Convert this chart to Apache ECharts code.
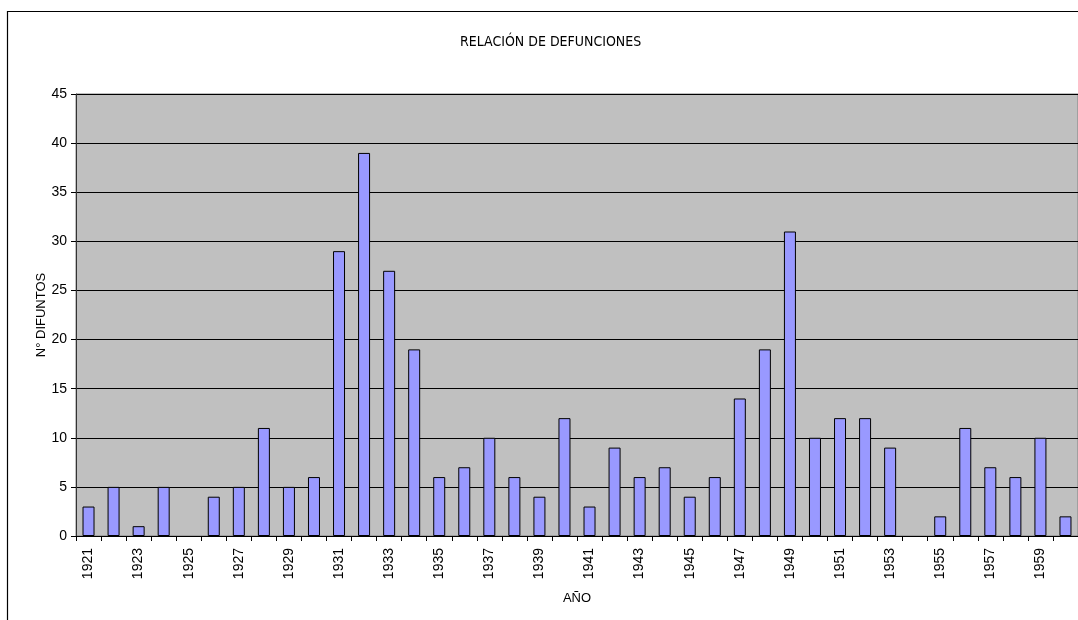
<!DOCTYPE html>
<html>
<head>
<meta charset="utf-8">
<script src="https://cdn.jsdelivr.net/npm/echarts@6/dist/echarts.min.js"></script>
<style>html,body{margin:0;padding:0;background:#fff;}#c{width:1078px;height:620px;}</style>
</head>
<body>
<div id="c"></div>
<script>
const years = ['1921','1922','1923','1924','1925','1926','1927','1928','1929','1930',
  '1931','1932','1933','1934','1935','1936','1937','1938','1939','1940',
  '1941','1942','1943','1944','1945','1946','1947','1948','1949','1950',
  '1951','1952','1953','1954','1955','1956','1957','1958','1959','1960'];
const deaths = [3,5,1,5,0,4,5,11,5,6,
  29,39,27,19,6,7,10,6,4,12,
  3,9,6,7,4,6,14,19,31,10,
  12,12,9,0,2,11,7,6,10,2];
const titleText = 'RELACIÓN DE DEFUNCIONES';
const xName = 'AÑO';
const yName = 'N° DIFUNTOS';

const font = "'Liberation Sans', Arial, sans-serif";
const narrow = "'Liberation Sans Narrow', 'DejaVu Sans Condensed', 'Liberation Sans', sans-serif";
const chart = echarts.init(document.getElementById('c'));
chart.setOption({
  animation: false,
  backgroundColor: '#ffffff',
  title: {
    text: titleText, left: 455, top: 30,
    textStyle: {fontFamily: narrow, fontSize: 14, fontWeight: 'normal', color: '#000'}
  },
  graphic: [{
    type: 'rect', silent: true, z: 100,
    shape: {x: 7.5, y: 11.5, width: 1200, height: 800},
    style: {fill: 'none', stroke: '#000', lineWidth: 1.2}
  }],
  grid: {left: 76, right: -2, top: 94, bottom: 84, show: true, backgroundColor: '#C0C0C0', borderColor: '#808080', borderWidth: 1},
  xAxis: {
    type: 'category', data: years,
    name: xName, nameLocation: 'middle', nameGap: 56, nameMoveOverlap: false,
    nameTextStyle: {fontFamily: font, fontSize: 13, color: '#000'},
    axisLine: {lineStyle: {color: '#000', width: 1}},
    axisTick: {show: true, interval: 0, length: 5, lineStyle: {color: '#000'}},
    axisLabel: {interval: 1, rotate: 90, fontFamily: font, fontSize: 14, color: '#000', margin: 12},
    splitLine: {show: false}
  },
  yAxis: {
    type: 'value', min: 0, max: 45, interval: 5,
    name: yName, nameLocation: 'middle', nameGap: 28, nameMoveOverlap: false,
    nameTextStyle: {fontFamily: font, fontSize: 13, color: '#000'},
    axisLine: {show: true, lineStyle: {color: '#333', width: 1}},
    axisTick: {show: true, length: 5, lineStyle: {color: '#000'}},
    axisLabel: {fontFamily: font, fontSize: 14, color: '#000', margin: 9},
    splitLine: {show: true, lineStyle: {color: '#000', width: 1}}
  },
  series: [{
    type: 'bar', barWidth: 12,
    data: deaths.map(v => v === 0 ? {value: v, itemStyle: {borderWidth: 0}} : v),
    itemStyle: {color: '#9999FF', borderColor: '#000', borderWidth: 1}
  }]
});
</script>
</body>
</html>
